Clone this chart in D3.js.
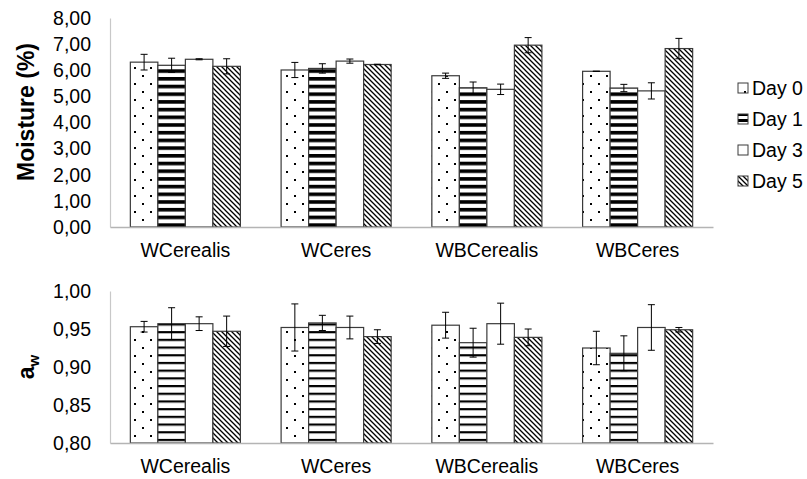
<!DOCTYPE html>
<html>
<head>
<meta charset="utf-8">
<script src="https://cdn.jsdelivr.net/npm/d3@7"></script>
<style>
  html, body { margin: 0; padding: 0; background: #fff; }
  svg { display: block; font-family: "Liberation Sans", Arial, sans-serif; }
</style>
</head>
<body>
<svg id="chart" width="807" height="479"></svg>
<script>
// Samples and storage days
const categories = ["WCerealis", "WCeres", "WBCerealis", "WBCeres"];
const series = ["Day 0", "Day 1", "Day 3", "Day 5"];

// Moisture (%) per day, one value per sample
const moistureDay0 = [6.31, 6.01, 5.79, 5.96];
const moistureDay1 = [6.19, 6.07, 5.33, 5.32];
const moistureDay3 = [6.42, 6.35, 5.27, 5.21];
const moistureDay5 = [6.15, 6.22, 6.96, 6.83];
// Moisture standard deviations
const moistureErrDay0 = [0.30, 0.29, 0.10, 0.00];
const moistureErrDay1 = [0.27, 0.18, 0.22, 0.14];
const moistureErrDay3 = [0.02, 0.08, 0.20, 0.31];
const moistureErrDay5 = [0.29, 0.01, 0.29, 0.39];

// Water activity per day
const awDay0 = [0.953, 0.952, 0.955, 0.925];
const awDay1 = [0.957, 0.958, 0.932, 0.918];
const awDay3 = [0.957, 0.952, 0.957, 0.952];
const awDay5 = [0.947, 0.940, 0.939, 0.949];
// Water activity standard deviations
const awErrDay0 = [0.007, 0.031, 0.017, 0.022];
const awErrDay1 = [0.021, 0.010, 0.019, 0.023];
const awErrDay3 = [0.009, 0.015, 0.027, 0.030];
const awErrDay5 = [0.020, 0.009, 0.011, 0.003];

// Axis tick values
const moistureTicks = [0, 1, 2, 3, 4, 5, 6, 7, 8];
const awTicks = [0.80, 0.85, 0.90, 0.95, 1.00];

const moistureValues = [moistureDay0, moistureDay1, moistureDay3, moistureDay5];
const moistureErrors = [moistureErrDay0, moistureErrDay1, moistureErrDay3, moistureErrDay5];
const awValues = [awDay0, awDay1, awDay3, awDay5];
const awErrors = [awErrDay0, awErrDay1, awErrDay3, awErrDay5];

const svg = d3.select("#chart");
const locale = d3.formatLocale({ decimal: ",", thousands: ".", grouping: [3], currency: ["", "€"] });
const fmt2 = locale.format(".2f");
const FONT = "'Liberation Sans', Arial, sans-serif";
const LABEL_SIZE = 19.5;

// ---- fill patterns ----
const defs = svg.append("defs");

function dotPattern(id) {
  const p = defs.append("pattern").attr("id", id)
    .attr("patternUnits", "userSpaceOnUse").attr("width", 16).attr("height", 16);
  p.append("rect").attr("width", 16).attr("height", 16).attr("fill", "#fff");
  p.append("rect").attr("x", 6).attr("y", 3).attr("width", 2).attr("height", 2).attr("fill", "#000");
  p.append("rect").attr("x", 14).attr("y", 11).attr("width", 2).attr("height", 2).attr("fill", "#000");
}
function stripePattern(id, period, thick) {
  const p = defs.append("pattern").attr("id", id)
    .attr("patternUnits", "userSpaceOnUse").attr("width", 8).attr("height", period);
  p.append("rect").attr("width", 8).attr("height", period).attr("fill", "#fff");
  p.append("rect").attr("y", 0).attr("width", 8).attr("height", thick).attr("fill", "#000");
}
function diagPattern(id) {
  const s = 5;
  const p = defs.append("pattern").attr("id", id)
    .attr("patternUnits", "userSpaceOnUse").attr("width", s).attr("height", s);
  p.append("rect").attr("width", s).attr("height", s).attr("fill", "#fff");
  p.append("path")
    .attr("d", `M-1,-1L${s + 1},${s + 1}M-1,${s - 1}L1,${s + 1}M${s - 1},-1L${s + 1},1`)
    .attr("stroke", "#000").attr("stroke-width", 1.3);
}
dotPattern("pDots");
stripePattern("pStripesTop", 7.7, 3.6);
stripePattern("pStripesBottom", 7.7, 2.2);
stripePattern("pStripesLegend", 6, 3);
diagPattern("pDiag");

const fillsTop = ["url(#pDots)", "url(#pStripesTop)", "#fff", "url(#pDiag)"];
const fillsBottom = ["url(#pDots)", "url(#pStripesBottom)", "#fff", "url(#pDiag)"];

// ---- one grouped bar panel ----
function panel(opts) {
  const { top, bottom, domain, ticks, values, errors, fills } = opts;
  const left = 110, right = 713;
  const x = d3.scaleBand().domain(categories).range([left, right])
    .paddingInner(0.27).paddingOuter(0.135);
  const xs = d3.scaleBand().domain(series).range([0, x.bandwidth()]).padding(0);
  const y = d3.scaleLinear().domain(domain).range([bottom, top]);

  const g = svg.append("g");

  // y axis
  const ya = g.append("g").attr("transform", `translate(${left},0)`)
    .call(d3.axisLeft(y).tickValues(ticks).tickFormat(fmt2).tickSize(0).tickPadding(19));
  ya.select(".domain").attr("stroke", "#c8c8c8").attr("stroke-width", 1.2);
  ya.selectAll("text").attr("font-size", LABEL_SIZE).attr("fill", "#000")
    .attr("font-family", FONT);

  // bars
  const rows = [];
  series.forEach((s, si) => {
    categories.forEach((c, ci) => {
      rows.push({ s, si, c, v: values[si][ci], e: errors[si][ci] });
    });
  });
  g.selectAll("rect.bar").data(rows).join("rect").attr("class", "bar")
    .attr("x", d => x(d.c) + xs(d.s))
    .attr("y", d => y(d.v))
    .attr("width", xs.bandwidth())
    .attr("height", d => y(domain[0]) - y(d.v))
    .attr("fill", d => fills[d.si])
    .attr("stroke", "#3a3a3a").attr("stroke-width", 1.2);

  // x axis (drawn over bar bottoms)
  const xa = g.append("g").attr("transform", `translate(0,${bottom})`)
    .call(d3.axisBottom(x).tickSize(0).tickSizeOuter(0).tickPadding(16));
  xa.select(".domain").attr("stroke", "#b4b4b4").attr("stroke-width", 1.6);
  xa.selectAll("text").attr("font-size", LABEL_SIZE).attr("fill", "#000")
    .attr("font-family", FONT);

  // error bars
  const eb = g.selectAll("g.err").data(rows).join("g").attr("class", "err")
    .attr("stroke", "#000").attr("stroke-width", 1);
  const cx = d => x(d.c) + xs(d.s) + xs.bandwidth() / 2;
  eb.append("line").attr("x1", cx).attr("x2", cx)
    .attr("y1", d => y(d.v + d.e)).attr("y2", d => y(d.v - d.e));
  eb.append("line").attr("x1", d => cx(d) - 3.5).attr("x2", d => cx(d) + 3.5)
    .attr("y1", d => y(d.v + d.e)).attr("y2", d => y(d.v + d.e));
  eb.append("line").attr("x1", d => cx(d) - 3.5).attr("x2", d => cx(d) + 3.5)
    .attr("y1", d => y(d.v - d.e)).attr("y2", d => y(d.v - d.e));
}

panel({ top: 18, bottom: 227, domain: [0, 8], ticks: moistureTicks,
        values: moistureValues, errors: moistureErrors, fills: fillsTop });
panel({ top: 291, bottom: 443, domain: [0.8, 1.0], ticks: awTicks,
        values: awValues, errors: awErrors, fills: fillsBottom });

// ---- axis titles ----
svg.append("text")
  .attr("transform", "translate(34,112) rotate(-90)")
  .attr("text-anchor", "middle")
  .attr("font-size", 23).attr("font-weight", "bold")
  .text("Moisture (%)");

const aw = svg.append("text")
  .attr("transform", "translate(34,367) rotate(-90)")
  .attr("text-anchor", "middle")
  .attr("font-size", 23).attr("font-weight", "bold");
aw.append("tspan").text("a");
aw.append("tspan").attr("font-size", 15).attr("dy", 5).text("w");

// ---- legend ----
const legendFills = ["url(#pDots)", "url(#pStripesLegend)", "#fff", "url(#pDiag)"];
const lg = svg.append("g").attr("transform", "translate(738,88)");
const item = lg.selectAll("g").data(series).join("g")
  .attr("transform", (d, i) => `translate(0,${i * 31})`);
item.append("rect").attr("x", 0).attr("y", -5).attr("width", 10).attr("height", 10)
  .attr("fill", (d, i) => legendFills[i]).attr("stroke", "#3a3a3a").attr("stroke-width", 1);
item.append("text").attr("x", 14).attr("y", 0).attr("dy", "0.35em")
  .attr("font-size", LABEL_SIZE).text(d => d);
</script>
</body>
</html>
